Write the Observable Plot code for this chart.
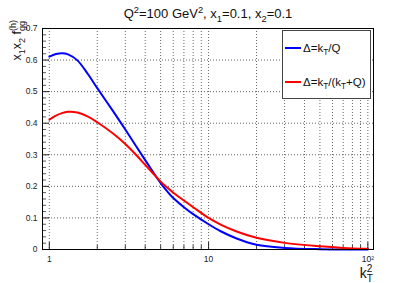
<!DOCTYPE html>
<html><head><meta charset="utf-8">
<script src="https://cdn.jsdelivr.net/npm/d3@7"></script>
<script src="https://cdn.jsdelivr.net/npm/@observablehq/plot@0.6"></script>
<style>body{margin:0;background:#fff} svg{display:block}</style>
</head><body><div id="chart"></div>
<script>
// ---- data ----
const kT2   = [1, 1.1, 1.2, 1.3, 1.5, 1.75, 2, 2.5, 3, 3.5, 4, 4.5, 5, 5.5, 6, 7, 8, 10, 12, 15, 20, 30, 50, 70, 100];
const fBlue = [0.611, 0.619, 0.622, 0.619, 0.599, 0.555, 0.511, 0.440, 0.380, 0.328, 0.283, 0.244, 0.210, 0.184, 0.163, 0.134, 0.112, 0.080, 0.057, 0.035, 0.015, 0.005, 0.001, 0.0003, 0];
const fRed  = [0.411, 0.424, 0.432, 0.436, 0.434, 0.421, 0.403, 0.368, 0.334, 0.300, 0.268, 0.240, 0.215, 0.196, 0.180, 0.155, 0.134, 0.100, 0.078, 0.057, 0.037, 0.021, 0.010, 0.005, 0.002];
const seriesNames = ["blue", "red"];
const xGridTicks  = [1, 2, 3, 4, 5, 6, 7, 8, 9, 10, 20, 30, 40, 50, 60, 70, 80, 90, 100];
const xMajorTicks = [1, 10, 100];
const xTickLabels = ["1", "10", "10²"];
const yMajorTicks = [0, 0.1, 0.2, 0.3, 0.4, 0.5, 0.6, 0.7];
const yMinorTicks = [0.02, 0.04, 0.06, 0.08, 0.12, 0.14, 0.16, 0.18, 0.22, 0.24, 0.26, 0.28, 0.32, 0.34, 0.36, 0.38,
                     0.42, 0.44, 0.46, 0.48, 0.52, 0.54, 0.56, 0.58, 0.62, 0.64, 0.66, 0.68];

const W = 415, H = 283, mL = 42, mR = 42, mT = 28, mB = 34;
const iW = W - mL - mR, iH = H - mT - mB;
const font = "'Liberation Sans', Arial, Helvetica, sans-serif";

const blueRows = kT2.map((k, i) => ({k, f: fBlue[i]}));
const redRows  = kT2.map((k, i) => ({k, f: fRed[i]}));
const gridStyle = {stroke: "#333", strokeOpacity: 0.75, strokeDasharray: "1,2"};

const chart = Plot.plot({
  width: W, height: H, marginLeft: mL, marginRight: mR, marginTop: mT, marginBottom: mB,
  style: {fontFamily: font, background: "#fff", color: "#111"},
  x: {type: "log", domain: [0.906, 108.5], axis: null},
  y: {domain: [0, 0.7], axis: null},
  marks: [
    Plot.gridX(xGridTicks, gridStyle),
    Plot.gridY(yMajorTicks.slice(1, -1), gridStyle),
    Plot.tickX(xGridTicks.filter(d => !xMajorTicks.includes(d)), {x: d => d, insetTop: iH - 4, stroke: "#444"}),
    Plot.tickX(xMajorTicks, {x: d => d, insetTop: iH - 7, stroke: "#222"}),
    Plot.tickY(yMinorTicks, {y: d => d, insetRight: iW - 4, stroke: "#555"}),
    Plot.tickY(yMajorTicks, {y: d => d, insetRight: iW - 7, stroke: "#222"}),
    Plot.line(blueRows, {x: "k", y: "f", stroke: "#0000ff", strokeWidth: 2, curve: "catmull-rom"}),
    Plot.line(redRows,  {x: "k", y: "f", stroke: "#ff0000", strokeWidth: 2, curve: "catmull-rom"}),
    Plot.frame({stroke: "#000"}),
    Plot.axisX(xMajorTicks, {tickSize: 0, tickPadding: 6, fontSize: 8.5, label: null,
      tickFormat: d => xTickLabels[xMajorTicks.indexOf(d)], fill: "#222"}),
    Plot.axisY(yMajorTicks, {tickSize: 0, tickPadding: 5, fontSize: 8.5, label: null,
      tickFormat: d => d === 0 ? "0" : d.toFixed(1), fill: "#222"})
  ]
});
document.getElementById("chart").appendChild(chart);

// ---- rich text helpers (sub/superscripts) ----
const svg = d3.select(chart);
function rich(text, segs, size) {
  let shift = 0, lastLen = 0;
  for (const s of segs) {
    const [t, m, back] = s;
    const target = m === "sup" ? -0.42 * size : m === "sub" ? 0.28 * size : 0;
    const ts = text.append("tspan").attr("dy", target - shift).attr("font-size", m ? size * 0.72 : size).text(t);
    if (back) ts.attr("dx", -lastLen);
    lastLen = ts.node().getComputedTextLength();
    shift = target;
  }
}

// title
const title = svg.append("text").attr("x", 208).attr("y", 18).attr("text-anchor", "middle")
  .attr("font-family", font).attr("font-size", 13).attr("fill", "#111");
rich(title, [["Q"], ["2", "sup"], ["=100 GeV"], ["2", "sup"], [", x"], ["1", "sub"], ["=0.1, x"], ["2", "sub"], ["=0.1"]], 13);

// y label
const ylab = svg.append("text").attr("transform", "translate(21,20) rotate(-90)").attr("text-anchor", "end")
  .attr("font-family", font).attr("font-size", 12.5).attr("fill", "#111");
rich(ylab, [["x"], ["1", "sub"], ["x"], ["2", "sub"], [" f"], ["gg", "sub"], ["(h)", "sup", true]], 12.5);

// x label
const xlab = svg.append("text").attr("x", 373).attr("y", 278).attr("text-anchor", "end")
  .attr("font-family", font).attr("font-size", 14).attr("fill", "#111");
rich(xlab, [["k"], ["T", "sub"], ["2", "sup", true]], 14);

// legend
const lg = svg.append("g").attr("font-family", font).attr("font-size", 11.5).attr("fill", "#111")
  .attr("text-anchor", "start");
lg.append("rect").attr("x", 282.5).attr("y", 30.5).attr("width", 88).attr("height", 68)
  .attr("fill", "#fff").attr("stroke", "#444").attr("stroke-width", 1);
const entries = [
  {color: "#0000ff", y: 48, segs: [["Δ=k"], ["T", "sub"], ["/Q"]]},
  {color: "#ff0000", y: 82, segs: [["Δ=k"], ["T", "sub"], ["/(k"], ["T", "sub"], ["+Q)"]]}
];
entries.forEach((e, i) => {
  lg.append("line").attr("x1", 285).attr("x2", 301).attr("y1", e.y).attr("y2", e.y)
    .attr("stroke", e.color).attr("stroke-width", 2);
  const t = lg.append("text").attr("x", 303).attr("y", e.y + 4).attr("text-anchor", "start")
    .attr("data-series", seriesNames[i]);
  rich(t, e.segs, 11.5);
});
</script>
</body></html>
